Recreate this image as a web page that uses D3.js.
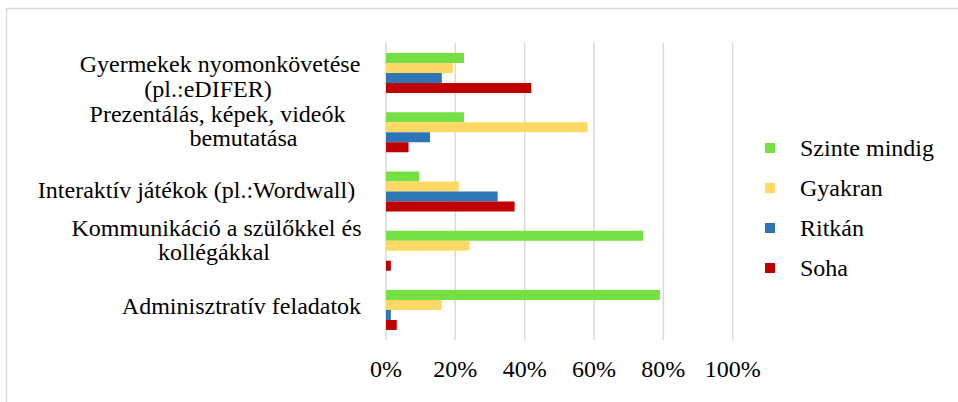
<!DOCTYPE html>
<html>
<head>
<meta charset="utf-8">
<script src="https://cdn.jsdelivr.net/npm/d3@7/dist/d3.min.js"></script>
<style>
  body { margin: 0; background: #fff; font-family: "Liberation Serif", serif; }
  svg text { font-family: "Liberation Serif", serif; }
</style>
</head>
<body>
<svg id="chart" width="958" height="402"></svg>
<script>
// categories, top to bottom
const categories = [
  "Gyermekek nyomonkövetése (pl.:eDIFER)",
  "Prezentálás, képek, videók bemutatása",
  "Interaktív játékok (pl.:Wordwall)",
  "Kommunikáció a szülőkkel és kollégákkal",
  "Adminisztratív feladatok"
];
// wrapped label lines as in the picture
const labelLines = [
  ["Gyermekek nyomonkövetése", "(pl.:eDIFER)"],
  ["Prezentálás, képek, videók", "bemutatása"],
  ["Interaktív játékok (pl.:Wordwall)"],
  ["Kommunikáció a szülőkkel és", "kollégákkal"],
  ["Adminisztratív feladatok"]
];
const seriesNames = ["Szinte mindig", "Gyakran", "Ritkán", "Soha"];
// values in %, per category
const szinteMindig = [22.5, 22.5, 9.6, 74.2, 79.0];
const gyakran      = [19.3, 58.1, 21.0, 24.1, 16.1];
const ritkan       = [16.1, 12.7, 32.2, 0.0, 1.4];
const soha         = [41.9, 6.5, 37.1, 1.4, 3.1];
const xTicks = [0, 20, 40, 60, 80, 100];

const colors = ["#75E043", "#FFD966", "#2E75B6", "#C00000"];
const seriesValues = [szinteMindig, gyakran, ritkan, soha];
const FONT = "Liberation Serif";

// label placement tweaks (line centres, baseline offsets from band centre)
const labelLayout = [
  { cx: [220, 208], dy: [-1, 23.5] },
  { cx: [217.5, 243.5], dy: [-10.3, 14.2] },
  { cx: [196.5], dy: [6.6] },
  { cx: [216.5, 214], dy: [-15.2, 9] },
  { cx: [241.5], dy: [4.3] }
];

const svg = d3.select("#chart");

// outer frame (only left and top edges visible)
svg.append("rect")
  .attr("x", 6.5).attr("y", 8.5)
  .attr("width", 1000).attr("height", 500)
  .attr("fill", "none")
  .attr("stroke", "#D9D9D9")
  .attr("stroke-width", 1.5);

const x = d3.scaleLinear().domain([0, 100]).range([386, 732.7]);

const y = d3.scaleBand()
  .domain(categories)
  .range([43.4, 339.6])
  .paddingInner(0.325)
  .paddingOuter(0.1625);

const ySub = d3.scaleBand()
  .domain(seriesNames)
  .range([0, y.bandwidth()]);

// gridlines
svg.append("g")
  .selectAll("line")
  .data(xTicks)
  .enter()
  .append("line")
  .attr("x1", d => x(d)).attr("x2", d => x(d))
  .attr("y1", 43).attr("y2", 340)
  .attr("stroke", "#D9D9D9")
  .attr("stroke-width", 1.5);

// bars
const groups = svg.append("g")
  .selectAll("g")
  .data(categories)
  .enter()
  .append("g")
  .attr("transform", d => "translate(0," + y(d) + ")");

groups.selectAll("rect")
  .data((d, i) => seriesNames.map((s, j) => ({ s: s, v: seriesValues[j][i], c: colors[j] })))
  .enter()
  .append("rect")
  .attr("x", x(0))
  .attr("y", d => ySub(d.s))
  .attr("width", d => x(d.v) - x(0))
  .attr("height", ySub.bandwidth())
  .attr("fill", d => d.c);

// x tick labels
svg.append("g")
  .selectAll("text")
  .data(xTicks)
  .enter()
  .append("text")
  .attr("x", d => x(d))
  .attr("y", 377)
  .attr("text-anchor", "middle")
  .attr("font-family", FONT)
  .attr("font-size", 24)
  .attr("fill", "#000")
  .text(d => d + "%");

// category labels
categories.forEach((c, i) => {
  const mid = y(c) + y.bandwidth() / 2;
  labelLines[i].forEach((line, k) => {
    svg.append("text")
      .attr("x", labelLayout[i].cx[k])
      .attr("y", mid + labelLayout[i].dy[k])
      .attr("text-anchor", "middle")
      .attr("font-family", FONT)
      .attr("font-size", 24)
      .attr("fill", "#000")
      .text(line);
  });
});

// legend
const legend = svg.append("g")
  .selectAll("g")
  .data(seriesNames)
  .enter()
  .append("g")
  .attr("transform", (d, i) => "translate(765," + (148 + i * 40) + ")");

legend.append("rect")
  .attr("x", 0).attr("y", -5)
  .attr("width", 10).attr("height", 10)
  .attr("fill", (d, i) => colors[i]);

legend.append("text")
  .attr("x", 35)
  .attr("y", 8)
  .attr("font-family", FONT)
  .attr("font-size", 24)
  .attr("fill", "#000")
  .text(d => d);
</script>
</body>
</html>
